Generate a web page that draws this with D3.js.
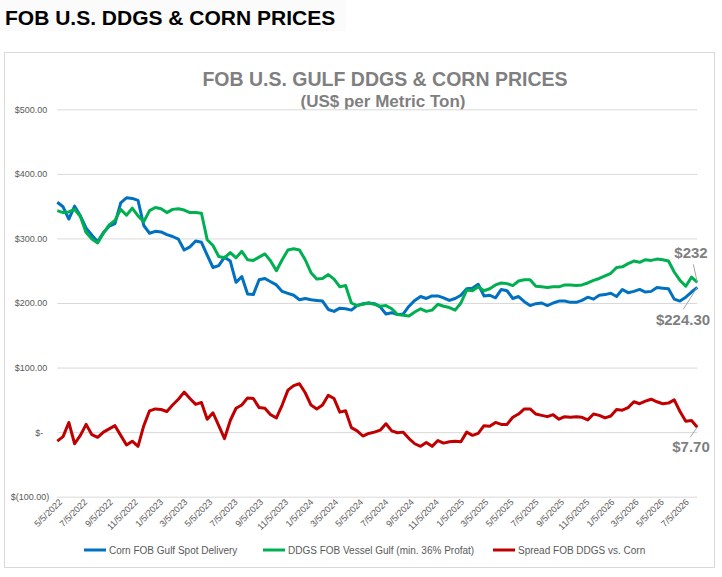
<!DOCTYPE html>
<html>
<head>
<meta charset="utf-8">
<script src="https://cdn.jsdelivr.net/npm/d3@7"></script>
<style>
  body { margin: 0; background: #fff; }
  svg text { font-family: "Liberation Sans", Arial, sans-serif; }
  .narrow { font-family: "Liberation Sans Narrow", "Arial Narrow", "Liberation Sans", Arial, sans-serif !important; }
  .grid line { stroke: #d9d9d9; stroke-width: 1; }
  .grid path { display: none; }
  .axis path, .axis line { display: none; }
  .axis text { fill: #595959; font-size: 9px; }
</style>
</head>
<body>
<div class="g-chart"></div>
<script>
//Chart size
var W = 722, H = 577;

//Plot area
var plot = {left: 57.3, right: 697.3, top: 109.3, bottom: 496.7};

//Headlines
var headline = "FOB U.S. DDGS & CORN PRICES";
var chartTitle = "FOB U.S. GULF DDGS & CORN PRICES";
var chartSubtitle = "(US$ per Metric Ton)";

//Series names
var seriesNames = ["Corn FOB Gulf Spot  Delivery", "DDGS FOB Vessel Gulf (min. 36% Profat)", "Spread FOB DDGS vs. Corn"];
var seriesColors = ["#0070c0", "#00b050", "#c00000"];

//Biweekly observations starting 5/5/2022
var startDate = "5/5/2022";

var corn = [356, 349, 330, 350, 335, 316, 305, 295, 309, 319,
            323, 355, 363, 362, 359, 320, 308, 311, 310, 306,
            303, 299, 282, 287, 296, 294, 274, 255, 258, 271,
            265, 232, 241, 214, 213, 236, 238, 233, 228, 218,
            215, 212, 205, 207, 205, 204, 203, 190, 187, 192,
            191, 189, 196, 199, 200, 199, 194, 183, 185, 182,
            183, 195, 204, 210, 207, 211, 211, 208, 204, 207,
            212, 222, 223, 229, 211, 212, 208, 221, 219, 207,
            210, 202, 196, 199, 200, 196, 200, 203, 203, 201,
            201, 204, 209, 206, 212, 213, 215, 210, 221, 216,
            218, 221, 217, 218, 224, 223, 222, 206, 203, 209,
            217, 224.3];

var ddgs = [343, 340, 341, 345, 334, 309, 299, 293, 308, 321,
            328, 345, 336, 347, 335, 326, 343, 348, 346, 340,
            345, 346, 344, 340, 340, 339, 298, 289, 272, 270,
            278, 270, 280, 267, 266, 271, 276, 265, 250, 267,
            282, 284, 282, 267, 247, 237, 238, 244, 237, 225,
            227, 200, 196, 198, 200, 198, 195, 196, 191, 182,
            181, 180, 186, 191, 187, 189, 198, 195, 193, 189,
            200, 220, 219, 225, 219, 222, 228, 231, 230, 227,
            234, 236, 236, 226, 225, 224, 225, 225, 228, 228,
            227, 228, 231, 235, 238, 242, 246, 255, 256, 261,
            265, 263, 267, 266, 268, 267, 265, 248, 235, 226,
            240, 232];

var spread = [-14, -7, 15, -18, -5, 12, -4, -8, 0, 5,
              10, -5, -20, -14, -22, 10, 33, 36, 35, 32,
              42, 51, 62, 52, 43, 46, 20, 30, 10, -10,
              18, 37, 42, 53, 52, 38, 37, 27, 22, 42,
              65, 72, 75, 61, 42, 36, 42, 57, 52, 31,
              33, 7, 2, -6, -2, 0, 3, 13, 2, -1,
              0, -10, -18, -22, -16, -22, -13, -17, -15, -14,
              -15, 0, -5, -2, 10, 9, 15, 12, 12, 23,
              28, 36, 36, 28, 26, 24, 27, 20, 24, 23,
              24, 23, 19, 28, 26, 22, 25, 35, 34, 38,
              47, 44, 48, 51, 47, 44, 45, 50, 32, 17,
              18, 7.7];

//Y ticks
var yTicks = [500, 400, 300, 200, 100, 0, -100];

//X tick labels
var xTickLabels = ["5/5/2022", "7/5/2022", "9/5/2022", "11/5/2022", "1/5/2023", "3/5/2023",
                   "5/5/2023", "7/5/2023", "9/5/2023", "11/5/2023", "1/5/2024", "3/5/2024",
                   "5/5/2024", "7/5/2024", "9/5/2024", "11/5/2024", "1/5/2025", "3/5/2025",
                   "5/5/2025", "7/5/2025", "9/5/2025", "11/5/2025", "1/5/2026", "3/5/2026",
                   "5/5/2026", "7/5/2026"];

//End labels
var endLabels = ["$224.30", "$232", "$7.70"];

var parse = d3.timeParse("%-m/%-d/%Y");
var fmt = d3.timeFormat("%-m/%-d/%Y");

//Dates for each observation
var t0 = parse(startDate);
var dates = corn.map(function(d, i) { return d3.timeDay.offset(t0, i * 14); });

var svg = d3.select(".g-chart").append("svg")
  .attr("width", W)
  .attr("height", H);

//Top headline
svg.append("rect")
  .attr("x", 0).attr("y", 0)
  .attr("width", 346).attr("height", 31)
  .attr("fill", "#fbfbfb");

svg.append("text")
  .attr("x", 5)
  .attr("y", 25)
  .style("font-size", "21px")
  .style("font-weight", "bold")
  .style("fill", "#000")
  .text(headline);

//Chart border
svg.append("rect")
  .attr("x", 4.5).attr("y", 52.5)
  .attr("width", 710).attr("height", 515)
  .attr("fill", "#fff")
  .attr("stroke", "#d9d9d9");

//Chart title
svg.append("text")
  .attr("x", 385)
  .attr("y", 86)
  .attr("text-anchor", "middle")
  .style("font-size", "19.5px")
  .style("font-weight", "bold")
  .style("fill", "#7f7f7f")
  .text(chartTitle);

svg.append("text")
  .attr("x", 383)
  .attr("y", 107)
  .attr("text-anchor", "middle")
  .style("font-size", "17px")
  .style("font-weight", "bold")
  .style("fill", "#7f7f7f")
  .text(chartSubtitle);

//Scales
var x = d3.scaleTime()
  .domain([dates[0], dates[dates.length - 1]])
  .range([plot.left, plot.right]);

var y = d3.scaleLinear()
  .domain([-100, 500])
  .range([plot.bottom, plot.top]);

//Gridlines
svg.append("g")
  .attr("class", "grid")
  .attr("transform", "translate(" + plot.left + ",0)")
  .call(d3.axisRight(y).tickValues(yTicks).tickSize(plot.right - plot.left).tickFormat(""));

//Y axis labels
var yAxisGroup = svg.append("g")
  .attr("class", "axis narrow")
  .attr("transform", "translate(" + (plot.left - 10) + ",0)")
  .call(d3.axisLeft(y).tickValues(yTicks).tickSize(0).tickPadding(0)
    .tickFormat(function(d) {
      if (d === 0) return "$-";
      if (d < 0) return "$(" + d3.format(".2f")(-d) + ")";
      return "$" + d3.format(".2f")(d);
    }));

yAxisGroup.selectAll("text")
  .classed("narrow", true)
  .attr("dx", function(d) { return d === 0 ? -4 : (d < 0 ? 2 : 0); });

//X axis labels
var xTicks = xTickLabels.map(parse);

var xAxisGroup = svg.append("g")
  .attr("class", "axis")
  .attr("transform", "translate(0," + plot.bottom + ")")
  .call(d3.axisBottom(x).tickValues(xTicks).tickSize(0).tickFormat(fmt));

xAxisGroup.selectAll("text")
  .classed("narrow", true)
  .attr("text-anchor", "end")
  .attr("dy", null)
  .attr("y", 0)
  .attr("transform", "translate(5,6) rotate(-45)");

//Lines
var line = d3.line()
  .x(function(d) { return x(d.date); })
  .y(function(d) { return y(d.value); });

var allSeries = [corn, ddgs, spread];

allSeries.forEach(function(values, k) {
  var pts = values.map(function(v, i) { return {date: dates[i], value: v}; });
  svg.append("path")
    .datum(pts)
    .attr("fill", "none")
    .attr("stroke", seriesColors[k])
    .attr("stroke-width", 3)
    .attr("stroke-linejoin", "round")
    .attr("d", line);
});

//End labels with leader lines
var last = dates.length - 1;
var endPos = [
  {dx: -14, dy: 22, tx: 683, ty: 325},
  {dx: -4, dy: -18, tx: 691, ty: 258},
  {dx: -7, dy: 10, tx: 691, ty: 452}
];

allSeries.forEach(function(values, k) {
  var ex = x(dates[last]), ey = y(values[last]);
  svg.append("line")
    .attr("x1", ex).attr("y1", ey)
    .attr("x2", ex + endPos[k].dx).attr("y2", ey + endPos[k].dy)
    .attr("stroke", "#a6a6a6")
    .attr("stroke-width", 1);
  svg.append("text")
    .attr("class", "narrow")
    .attr("x", endPos[k].tx)
    .attr("y", endPos[k].ty)
    .attr("text-anchor", "middle")
    .style("font-size", "15px")
    .style("font-weight", "bold")
    .style("fill", "#7f7f7f")
    .text(endLabels[k]);
});

//Legend
var legendX = [84, 263, 493];

var legend = svg.selectAll(".legend")
  .data(seriesNames)
  .enter()
  .append("g")
  .attr("class", "legend")
  .attr("transform", function(d, i) { return "translate(" + legendX[i] + ",550)"; });

legend.append("line")
  .attr("x1", 0).attr("x2", 22)
  .attr("stroke", function(d, i) { return seriesColors[i]; })
  .attr("stroke-width", 3);

legend.append("text")
  .attr("class", "narrow")
  .attr("x", 25)
  .attr("y", 3.5)
  .style("font-size", "10px")
  .style("fill", "#595959")
  .text(function(d) { return d; });
</script>
</body>
</html>
